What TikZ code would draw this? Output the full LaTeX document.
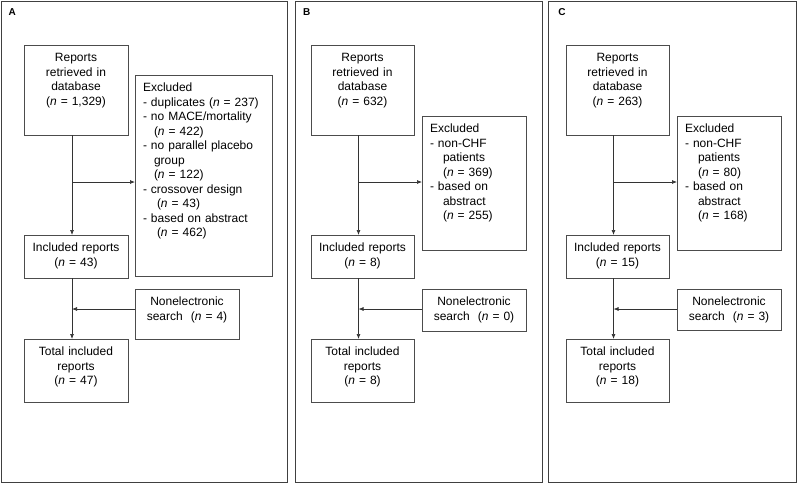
\documentclass[tikz,border=0pt]{standalone}
\usepackage{fontspec}
\setmainfont{Liberation Sans}
\usetikzlibrary{arrows.meta, positioning}
\newcommand{\boxfont}{\fontsize{12}{14.5}\selectfont}
\newcommand{\nn}{\textit{n}}

\begin{document}
\begin{tikzpicture}[x=1pt, y=-1pt,
  frame/.style={draw=black!75, line width=1pt},
  panel/.style={font=\fontsize{10}{12}\selectfont\bfseries, inner sep=0pt},
  box/.style={draw=black!70, line width=0.7pt, anchor=north west, outer sep=0pt,
    inner xsep=4pt, inner ysep=0pt, text width=96pt, align=center,
    text height=16.5pt, font=\boxfont},
  exbox/.style={box, inner xsep=8pt, align=left},
  arr/.style={draw=black!80, line width=0.7pt, -{Latex[length=5pt,width=4pt]}}]
\useasboundingbox (0,0) rectangle (797,483);

\draw[frame] (1,1) rectangle (287,482);
\draw[frame] (295,1) rectangle (542,482);
\draw[frame] (548,1) rectangle (796,482);
\node[panel] (labA) at (12.3,12.5) {A};
\node[panel] (labB) at (306.7,12.5) {B};
\node[panel] (labC) at (562,12.5) {C};

% panel A
\node[box, text depth=73.5pt] (repA) at (24,45) {Reports\\retrieved in\\database\\(\nn{} = 1,329)};
\node[exbox, text width=121pt, text depth=184.5pt] (excA) at (135,75) {Excluded\\
  - duplicates (\nn{} = 237)\\
  - no MACE/mortality\\
  \hspace*{11pt}(\nn{} = 422)\\
  - no parallel placebo\\
  \hspace*{11pt}group\\
  \hspace*{11pt}(\nn{} = 122)\\
  - crossover design\\
  \hspace*{14pt}(\nn{} = 43)\\
  - based on abstract\\
  \hspace*{14pt}(\nn{} = 462)};
\node[box, text depth=26.5pt] (incA) at (24,235) {Included reports\\(\nn{} = 43)};
\node[box, text depth=33.5pt] (nonA) at (135,289) {Nonelectronic\\search\ \ (\nn{} = 4)};
\node[box, text depth=46.5pt] (totA) at (24,339) {Total included\\reports\\(\nn{} = 47)};
\coordinate (brA) at (72,182);
\coordinate (mrgA) at (72,309);
\draw[arr] ([xshift=-4pt]repA.south) -- ([xshift=-4pt]incA.north);
\draw[arr] ([xshift=-4pt]incA.south) -- ([xshift=-4pt]totA.north);
\draw[arr] (brA) -- (brA -| excA.west);
\draw[arr] (nonA.west |- mrgA) -- (mrgA);

% panel B
\node[box, text width=95pt, text depth=73.5pt] (repB) at (311,45) {Reports\\retrieved in\\database\\(\nn{} = 632)};
\node[exbox, text width=88pt, text depth=117.5pt] (excB) at (422,116) {Excluded\\
  - non-CHF\\
  \hspace*{13pt}patients\\
  \hspace*{13pt}(\nn{} = 369)\\
  - based on\\
  \hspace*{13pt}abstract\\
  \hspace*{13pt}(\nn{} = 255)};
\node[box, text width=95pt, text depth=26.5pt] (incB) at (311,235) {Included reports\\(\nn{} = 8)};
\node[box, text depth=25.5pt] (nonB) at (422,289) {Nonelectronic\\search\ \ (\nn{} = 0)};
\node[box, text width=95pt, text depth=46.5pt] (totB) at (311,339) {Total included\\reports\\(\nn{} = 8)};
\coordinate (brB) at (358.5,182);
\coordinate (mrgB) at (358.5,309);
\draw[arr] ([xshift=-4pt]repB.south) -- ([xshift=-4pt]incB.north);
\draw[arr] ([xshift=-4pt]incB.south) -- ([xshift=-4pt]totB.north);
\draw[arr] (brB) -- (brB -| excB.west);
\draw[arr] (nonB.west |- mrgB) -- (mrgB);

% panel C
\node[box, text width=95pt, text depth=73.5pt] (repC) at (566,45) {Reports\\retrieved in\\database\\(\nn{} = 263)};
\node[exbox, text width=88pt, text depth=117.5pt] (excC) at (677,116) {Excluded\\
  - non-CHF\\
  \hspace*{13pt}patients\\
  \hspace*{13pt}(\nn{} = 80)\\
  - based on\\
  \hspace*{13pt}abstract\\
  \hspace*{13pt}(\nn{} = 168)};
\node[box, text width=95pt, text depth=26.5pt] (incC) at (566,235) {Included reports\\(\nn{} = 15)};
\node[box, text depth=24.5pt] (nonC) at (677,289) {Nonelectronic\\search\ \ (\nn{} = 3)};
\node[box, text width=95pt, text depth=46.5pt] (totC) at (566,339) {Total included\\reports\\(\nn{} = 18)};
\coordinate (brC) at (613.5,182);
\coordinate (mrgC) at (613.5,309);
\draw[arr] ([xshift=-4pt]repC.south) -- ([xshift=-4pt]incC.north);
\draw[arr] ([xshift=-4pt]incC.south) -- ([xshift=-4pt]totC.north);
\draw[arr] (brC) -- (brC -| excC.west);
\draw[arr] (nonC.west |- mrgC) -- (mrgC);
\end{tikzpicture}
\end{document}
